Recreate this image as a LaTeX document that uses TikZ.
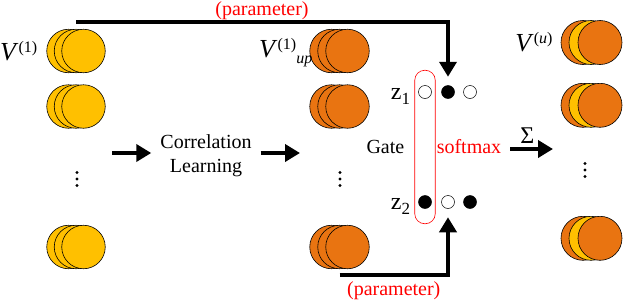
\documentclass[tikz,border=0pt]{standalone}
\usepackage{fontspec}
\setmainfont{Liberation Serif}
\usepackage{xcolor}
\usepackage{tikz}
\usetikzlibrary{arrows.meta,positioning,fit}

\definecolor{gold}{HTML}{FFC000}
\definecolor{amber}{HTML}{E97411}

\newcommand{\bigsz}{\fontsize{26}{28}\selectfont}
\newcommand{\supsz}{\fontsize{16}{18}\selectfont}

\begin{document}
\begin{tikzpicture}[
x=1pt, y=-1pt,
lbl/.style={font=\fontsize{20}{24}\selectfont, inner sep=0pt},
coin/.style={circle, draw, line width=0.6pt, minimum size=43.5pt, inner sep=0pt},
ycoin/.style={coin, fill=gold},
ocoin/.style={coin, fill=amber},
gdot/.style={circle, draw, line width=0.5pt, minimum size=13pt, inner sep=0pt},
on/.style={gdot, fill=black},
off/.style={gdot, fill=white},
arr/.style={-{Triangle[length=15pt,width=17pt]}, line width=4pt},
param/.style={lbl, text=red}
]
\useasboundingbox (0,0) rectangle (624,300);

% input, updated and output stacks
\foreach \r/\yy in {1/51, 2/106.5, 3/247} {
  \node[ycoin] (in\r a) at (68.5,\yy) {};
  \node[ycoin] (in\r b) at (76,\yy) {};
  \node[ycoin] (in\r c) at (83.5,\yy) {};
  \node[ocoin] (up\r a) at (331.5,\yy) {};
  \node[ocoin] (up\r b) at (339.5,\yy) {};
  \node[ocoin] (up\r c) at (347.5,\yy) {};
}
\foreach \r/\yy in {1/42.5, 2/105.3, 3/238.3} {
  \node[ocoin, minimum size=44pt] (out\r a) at (583,\yy) {};
  \node[ycoin, minimum size=44pt] (out\r b) at (591,\yy) {};
  \node[ocoin, minimum size=44pt] (out\r c) at (600,\yy) {};
}
% vertical dots
\foreach \xx/\yy in {77/179, 340/179, 585/170}
  \foreach \d in {-6.5,0,6.5}
    \fill (\xx,\yy+\d) circle (1.6pt);

\node[lbl, left=9pt of in1a] (vin) {\bigsz\textit{V}\raisebox{8pt}{\supsz(1)}};
\node[lbl, left=-3pt of up1a, yshift=-2pt] (vup) {\bigsz\textit{V}\raisebox{8pt}{\supsz(1)}\raisebox{-6pt}{\supsz\textit{up}}};
\node[lbl, left=8pt of out1a] (vout) {\bigsz\textit{V}\raisebox{8pt}{\supsz(\textit{u})}};

% correlation learning
\node[lbl, align=center, inner xsep=9pt] (corr) at (206,156) {Correlation\\Learning};
\coordinate (corrin) at (112,153);
\coordinate (corrout) at (300,153);
\draw[arr] (corrin) -- (corr.west |- corrin);
\draw[arr] (corr.east |- corrout) -- (corrout);

% gate
\foreach \r/\yy/\s/\t/\u in {1/92/off/on/off, 2/202/on/off/on} {
  \node[\s] (z\r a) at (425,\yy) {};
  \node[\t] (z\r b) at (448,\yy) {};
  \node[\u] (z\r c) at (470,\yy) {};
}
\node[draw=red, line width=0.6pt, rounded corners=10pt, inner xsep=3.5pt, inner ysep=15pt, fit=(z1a)(z2a)] (gate) {};
\node[lbl, left=8pt of z1a, yshift=-4pt] (z1) {\fontsize{24}{26}\selectfont z\raisebox{-5pt}{\fontsize{17}{18}\selectfont 1}};
\node[lbl, left=8pt of z2a, yshift=-4pt] (z2) {\fontsize{24}{26}\selectfont z\raisebox{-5pt}{\fontsize{17}{18}\selectfont 2}};
\node[lbl, left=10pt of gate] (gatelbl) {Gate};
\node[lbl, text=red, right=1pt of gate] (soft) {softmax};

\coordinate (sumout) at (553,149);
\draw[arr] ([xshift=9pt]soft.east |- sumout) -- (sumout)
  node[lbl, pos=0.4, above=4pt, font=\fontsize{24}{26}\selectfont] {Σ};

% parameters
\draw[arr, shorten >=8.5pt] ([yshift=7pt]in1b.north) -| (z1b.north)
  node[param, pos=0.25, above=0pt] {(parameter)};
\draw[arr, shorten >=8.5pt] ([yshift=-6pt]up3b.south) -| (z2b.south)
  node[param, pos=0.25, below=5pt] {(parameter)};
\end{tikzpicture}
\end{document}
